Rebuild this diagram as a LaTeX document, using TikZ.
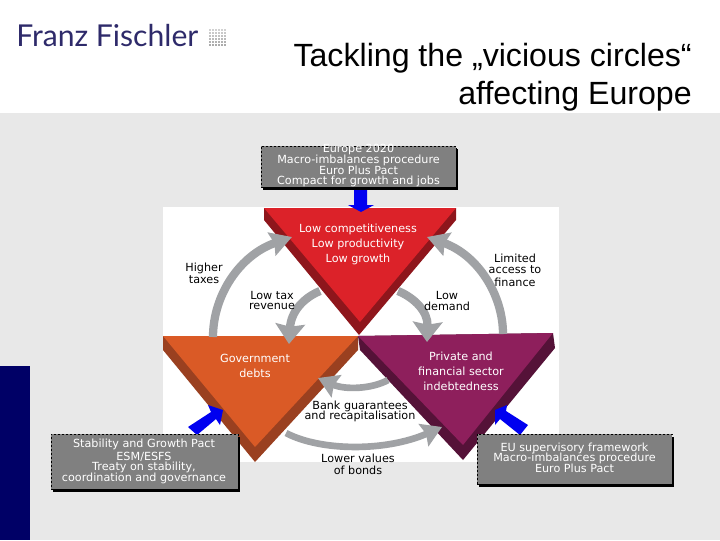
\documentclass[tikz,border=0pt]{standalone}
\usepackage{fontspec}
\setmainfont{DejaVu Sans}
\newfontfamily\titlefont{Liberation Sans}
\newfontfamily\logofont{Lato}
\usetikzlibrary{arrows.meta}
\definecolor{pagegray}{HTML}{E8E8E8}
\definecolor{navybar}{HTML}{000066}
\definecolor{boxgray}{HTML}{808080}
\definecolor{arcgray}{HTML}{A0A2A5}
\definecolor{redface}{HTML}{DC2229}
\definecolor{reddark}{HTML}{8E161C}
\definecolor{orangeface}{HTML}{DA5A26}
\definecolor{orangedark}{HTML}{9A4020}
\definecolor{purpleface}{HTML}{8E1F5C}
\definecolor{purpledark}{HTML}{551238}
\definecolor{logoblue}{HTML}{2E2A6A}
\definecolor{arrowblue}{HTML}{0000F0}
\tikzset{
  x=0.75pt,y=-0.75pt,
  lbl/.style={font=\fontsize{8.4}{8.4}\selectfont,align=center,inner sep=0pt,text=black},
  whitelbl/.style={lbl,text=white},
  policybox/.style={fill=boxgray,draw=black,dash pattern=on 1.5pt off 1.5pt,line width=0.7pt,inner sep=0pt},
  boxshadow/.style={fill=black,draw=none},
  bigarc/.style={draw=arcgray,line width=6.2pt,-{Stealth[inset=2pt,length=16pt,width=18pt]}},
  innerarc/.style={draw=arcgray,line width=6.2pt,-{Stealth[inset=2pt,length=15pt,width=22pt]}},
  flatarc/.style={draw=arcgray,line width=5pt,-{Stealth[inset=2pt,length=15pt,width=18pt]}},
  bluearrow/.style={fill=arrowblue,draw=none},
}
\begin{document}
\begin{tikzpicture}
\useasboundingbox (0,0) rectangle (720,540);
% page
\fill[white] (0,0) rectangle (720,113);
\fill[pagegray] (0,113) rectangle (720,540);
\fill[navybar] (0,366) rectangle (30,540);
\fill[white] (163,207) rectangle (559,462);
% logo
\node[anchor=base west,inner sep=0pt,text=logoblue,font=\logofont\fontsize{22.6}{22.6}\selectfont] (logo) at (16,46) {Franz Fischler};
\foreach \i in {0,...,5}{\foreach \j in {0,...,5}{
  \fill[black!\the\numexpr 18+3*\j\relax] (209+\i*3,29+\j*3) rectangle +(2.3,2.3);}}
% title
\node[anchor=base east,inner sep=0pt,font=\titlefont\fontsize{24.1}{24.1}\selectfont] (t1) at (692,66) {Tackling the „vicious circles“};
\node[anchor=base east,inner sep=0pt,font=\titlefont\fontsize{24.1}{24.1}\selectfont] (t2) at (692,104) {affecting Europe};
% triangles
\fill[orangedark] (163,336) -- (163,350) -- (255,462) -- (358,350) -- (358,336) -- cycle;
\fill[orangeface] (163,336) -- (255,447) -- (358,336) -- cycle;
\fill[purpledark] (358,336) -- (360,350) -- (463,460) -- (555,348) -- (553,333) -- cycle;
\fill[purpleface] (358,336) -- (463,445) -- (553,333) -- cycle;
\fill[reddark] (264,208) -- (264,220) -- (359,335) -- (456,220) -- (456,208) -- cycle;
\fill[redface] (264,208) -- (360,322) -- (456,208) -- cycle;
% gray arcs
\coordinate (ol0) at (213,337); \coordinate (ol1) at (292,237);
\coordinate (or0) at (503,334); \coordinate (or1) at (427,237);
\coordinate (il0) at (320,291); \coordinate (il1) at (289,344);
\coordinate (ir0) at (398,291); \coordinate (ir1) at (427,342);
\coordinate (bi0) at (388,380); \coordinate (bi1) at (318,378);
\coordinate (lo0) at (286,433); \coordinate (lo1) at (442,427);
\draw[bigarc] (ol0) .. controls (213,295) and (240,255) .. (ol1);
\draw[bigarc] (or0) .. controls (503,295) and (478,255) .. (or1);
\draw[innerarc] (il0) .. controls (303,298) and (291,312) .. (il1);
\draw[innerarc] (ir0) .. controls (415,298) and (428,312) .. (ir1);
\draw[flatarc] (bi0) .. controls (372,389) and (345,390) .. (bi1);
\draw[flatarc] (lo0) .. controls (320,451) and (385,452) .. (lo1);
% blue arrows
\fill[bluearrow] (354,189) -- (367,189) -- (367,205) -- (374,205) -- (361,212) -- (348,205) -- (354,205) -- cycle;
\fill[bluearrow] (188,427) -- (211,412) -- (208,405) -- (223,410) -- (220,425) -- (216,419) -- (197,435) -- cycle;
\fill[bluearrow] (528,425) -- (506,411) -- (507,405) -- (495,410) -- (495,425) -- (500,419) -- (520,435) -- cycle;
% boxes
\fill[boxshadow] (263,149) rectangle (458,190);
\node[policybox,minimum width=146.25pt,minimum height=30.75pt] (topbox) at (358.5,166.5) {};
\fill[boxshadow] (53,437) rectangle (240,492);
\node[policybox,minimum width=140.25pt,minimum height=41.25pt] (leftbox) at (144.5,461.5) {};
\fill[boxshadow] (479,437) rectangle (674,487);
\node[policybox,minimum width=146.25pt,minimum height=37.5pt] (rightbox) at (574.5,459) {};
% box text
\foreach \y/\s in {150/{Europe 2020},160.5/{Macro-imbalances procedure},170.5/{Euro Plus Pact},181/{Compact for growth and jobs}}
  \node[whitelbl] at (358.5,\y) {\s};
\foreach \y/\s in {444/{Stability and Growth Pact},457/{ESM/ESFS},467/{Treaty on stability,},478/{coordination and governance}}
  \node[whitelbl] at (144,\y) {\s};
\foreach \y/\s in {448/{EU supervisory framework},458/{Macro-imbalances procedure},468/{Euro Plus Pact}}
  \node[whitelbl] at (574.5,\y) {\s};
% triangle text
\foreach \y/\s in {229/{Low competitiveness},244/{Low productivity},259/{Low growth}}
  \node[whitelbl] at (358,\y) {\s};
\foreach \y/\s in {358/Government,373/debts}
  \node[whitelbl] at (255,\y) {\s};
\foreach \y/\s in {356/{Private and},371/{financial sector},386/indebtedness}
  \node[whitelbl] at (461,\y) {\s};
% outside labels
\foreach \y/\s in {268/Higher,280/taxes} \node[lbl] at (204,\y) {\s};
\foreach \y/\s in {295/{Low tax},306/revenue} \node[lbl] at (272,\y) {\s};
\foreach \y/\s in {295/Low,306/demand} \node[lbl] at (447,\y) {\s};
\foreach \y/\s in {258/Limited,270/{access to},282/finance} \node[lbl] at (515,\y) {\s};
\foreach \y/\s in {406/{Bank guarantees},416/{and recapitalisation}} \node[lbl] at (360,\y) {\s};
\foreach \y/\s in {458/{Lower values},470/{of bonds}} \node[lbl] at (358,\y) {\s};
\end{tikzpicture}
\end{document}
